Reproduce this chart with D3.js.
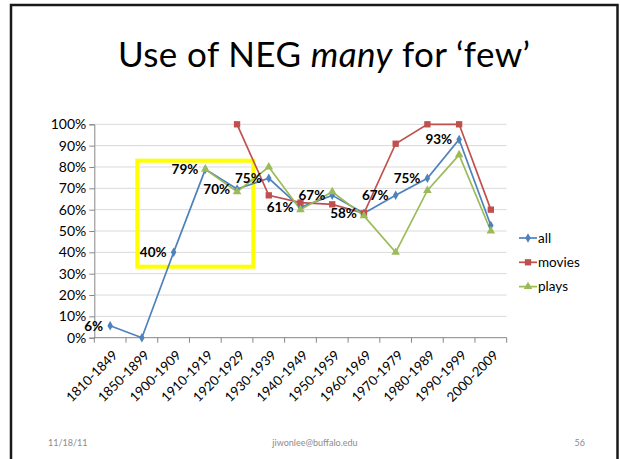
<!DOCTYPE html>
<html><head><meta charset="utf-8">
<script src="https://cdn.jsdelivr.net/npm/d3@7"></script>
<style>html,body{margin:0;padding:0;background:#fff;}svg{display:block;}</style>
</head><body>
<script>
const categories = ["1810-1849","1850-1899","1900-1909","1910-1919","1920-1929","1930-1939","1940-1949","1950-1959","1960-1969","1970-1979","1980-1989","1990-1999","2000-2009"];
const allValues    = [5.6, 0, 40, 78.9, 69.7, 74.7, 61.1, 66.7, 58.3, 66.7, 74.7, 92.9, 52.6];
const moviesValues = [null, null, null, null, 100, 66.7, 63.3, 62.5, 58.3, 90.9, 100, 100, 60];
const playsValues  = [null, null, null, 78.9, 68.4, 80, 60, 68.4, 57.1, 40, 69, 85.7, 50];
const allLabelShown = [true, false, true, true, true, true, true, true, true, true, true, true, false];
const yTicks = [0,10,20,30,40,50,60,70,80,90,100];
const seriesNames = ["all","movies","plays"];

(function(){
const W = 620, H = 459;
const svg = d3.select("body").append("svg").attr("width", W).attr("height", H);
const FONT = "Lato, 'Open Sans', sans-serif";

// slide frame
svg.append("rect").attr("x", 11).attr("y", 5).attr("width", 606.5).attr("height", 470)
  .attr("fill", "none").attr("stroke", "#1a1a1a").attr("stroke-width", 2.5);

// title
const title = svg.append("text").attr("x", 324).attr("y", 67).attr("text-anchor", "middle")
  .attr("font-family", FONT).attr("font-size", 35).attr("fill", "#000")
  .attr("textLength", 412).attr("lengthAdjust", "spacing");
title.append("tspan").text("Use of NEG ");
title.append("tspan").attr("font-style", "italic").text("many");
title.append("tspan").text(" for \u2018few\u2019");

const pL = 94.3, pR = 506.7, pT = 124.3, pB = 337.7;
const x = d3.scaleBand().domain(categories).range([pL, pR]).paddingInner(0).paddingOuter(0);
const y = d3.scaleLinear().domain([0, 100]).range([pB, pT]);
const cx = c => x(c) + x.bandwidth() / 2;

// gridlines
svg.append("g").selectAll("line").data(yTicks.filter(t => t > 0)).join("line")
  .attr("x1", pL).attr("x2", pR).attr("y1", d => y(d)).attr("y2", d => y(d))
  .attr("stroke", "#d9d9d9").attr("stroke-width", 1);

// y axis
const yAxis = svg.append("g").attr("transform", `translate(${pL},0)`)
  .call(d3.axisLeft(y).tickValues(yTicks).tickFormat(d => d + "%").tickSize(5).tickPadding(3));
yAxis.select(".domain").attr("stroke", "#868686");
yAxis.selectAll(".tick line").attr("stroke", "#868686");
yAxis.selectAll("text").attr("font-family", FONT).attr("font-size", 14).attr("fill", "#000");

// x axis
const xg = svg.append("g").attr("transform", `translate(0,${pB})`);
xg.append("line").attr("x1", pL).attr("x2", pR).attr("y1", 0).attr("y2", 0).attr("stroke", "#868686");
const boundaries = categories.map(c => x(c)).concat([pR]);
xg.selectAll("line.tk").data(boundaries).join("line").attr("class", "tk")
  .attr("x1", d => d).attr("x2", d => d).attr("y1", 0).attr("y2", 5).attr("stroke", "#868686");
xg.selectAll("text").data(categories).join("text")
  .attr("transform", d => `translate(${cx(d) + 5},${15}) rotate(-45)`)
  .attr("text-anchor", "end").attr("dy", "0.35em")
  .attr("font-family", FONT).attr("font-size", 13.2).attr("fill", "#000")
  .text(d => d);

// highlight box (annotation)
svg.append("rect").attr("x", 137.3).attr("y", 160.7).attr("width", 116).attr("height", 106)
  .attr("fill", "none").attr("stroke", "#ffff00").attr("stroke-width", 4);

const colors = { all: "#4f81bd", movies: "#c0504d", plays: "#9bbb59" };
const dataMap = { all: allValues, movies: moviesValues, plays: playsValues };
const symbols = { all: d3.symbolDiamond, movies: d3.symbolSquare, plays: d3.symbolTriangle };
const symSize = { all: 26, movies: 40, plays: 32 };

const line = d3.line().defined(d => d.v != null).x(d => cx(d.c)).y(d => y(d.v));

seriesNames.forEach(s => {
  const pts = categories.map((c, i) => ({ c, v: dataMap[s][i], i }));
  svg.append("path").datum(pts).attr("d", line).attr("fill", "none")
    .attr("stroke", colors[s]).attr("stroke-width", 1.7);
});
seriesNames.forEach(s => {
  const pts = categories.map((c, i) => ({ c, v: dataMap[s][i], i })).filter(d => d.v != null);
  svg.append("g").selectAll("path").data(pts).join("path")
    .attr("transform", d => `translate(${cx(d.c)},${y(d.v)})`)
    .attr("d", d3.symbol().type(symbols[s]).size(symSize[s]))
    .attr("fill", colors[s]);
});

// data labels for "all"
const fmt = d3.format(".0f");
svg.append("g").selectAll("text")
  .data(categories.map((c, i) => ({ c, v: allValues[i], show: allLabelShown[i] })).filter(d => d.show))
  .join("text")
  .attr("x", d => cx(d.c) - 7).attr("y", d => y(d.v)).attr("dy", "0.36em")
  .attr("text-anchor", "end").attr("font-family", FONT).attr("font-weight", "bold")
  .attr("font-size", 13.5).attr("fill", "#000")
  .text(d => fmt(d.v) + "%");

// legend
const lg = svg.append("g");
seriesNames.forEach((s, i) => {
  const ly = 238 + i * 24.3;
  lg.append("line").attr("x1", 519).attr("x2", 537).attr("y1", ly).attr("y2", ly)
    .attr("stroke", colors[s]).attr("stroke-width", 1.7);
  lg.append("path").attr("transform", `translate(528,${ly})`)
    .attr("d", d3.symbol().type(symbols[s]).size(symSize[s])).attr("fill", colors[s]);
  lg.append("text").attr("x", 538).attr("y", ly).attr("dy", "0.35em")
    .attr("font-family", FONT).attr("font-size", 13.5).attr("fill", "#000").text(s);
});

// footer
const foot = [["11/18/11", 48, "start"], ["jiwonlee@buffalo.edu", 315, "middle"], ["56", 585, "end"]];
svg.append("g").selectAll("text").data(foot).join("text")
  .attr("x", d => d[1]).attr("y", 446).attr("text-anchor", d => d[2])
  .attr("font-family", FONT).attr("font-size", 9).attr("fill", "#8b8b8b").text(d => d[0]);
})();
</script>
</body></html>
